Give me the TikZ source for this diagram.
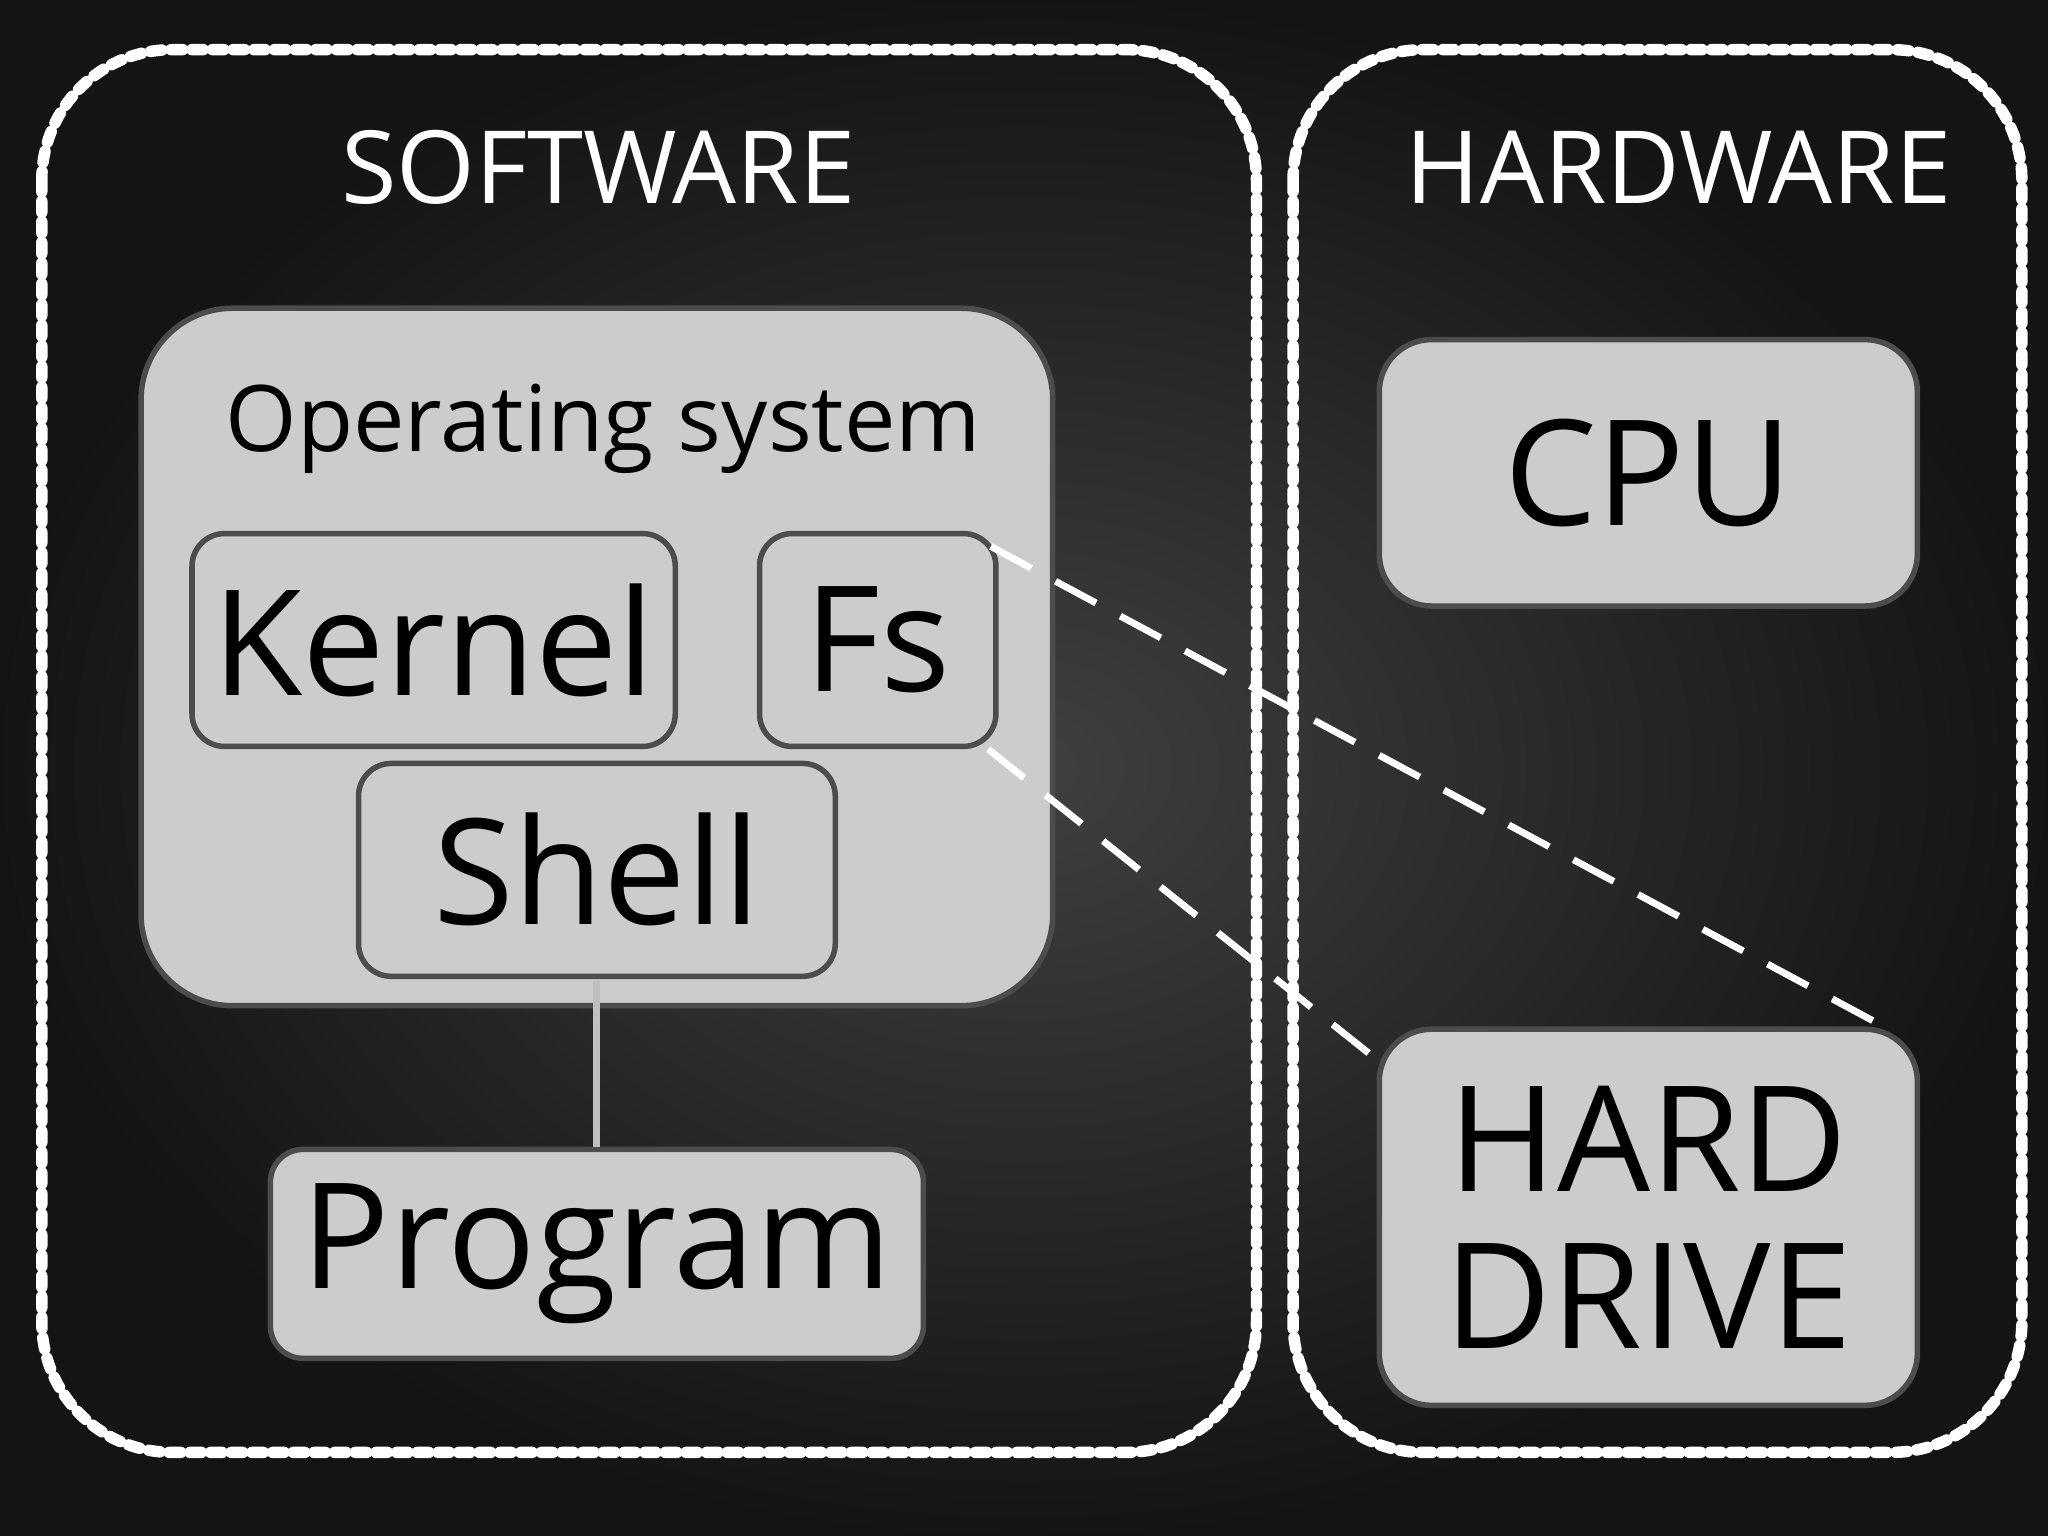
\documentclass[tikz,border=0pt]{standalone}
\usepackage{fontspec}
\setmainfont{Open Sans}
\begin{document}
\begin{tikzpicture}[x=0.01cm,y=-0.01cm,
  box/.style={draw=black!70,line width=1.2pt,fill=black!20,rounded corners=25*0.01cm},
  group/.style={draw=white,line width=2.5pt,dotted,line cap=round,rounded corners=1cm},
  big/.style={font=\fontsize{32}{36}\selectfont},
  lab/.style={text=white,font=\fontsize{22}{26}\selectfont},
  link/.style={draw=white,line width=1.5pt,dashed,dash pattern=on 10pt off 6pt}]
\useasboundingbox (0,0) rectangle (1568,1176);
\shade[inner color=black!75,outer color=black!92] (0,0) rectangle (1568,1176);
\draw[group] (32,38) rectangle (962,1112);
\draw[group] (990,38) rectangle (1548,1112);
\node[lab] (sw) at (458,128) {SOFTWARE};
\node[lab] (hw) at (1285,128) {HARDWARE};
\node[box,rounded corners=0.7cm,minimum width=698*0.01cm,minimum height=534*0.01cm] (os) at (457,503) {};
\node[font=\fontsize{20}{24}\selectfont] (ost) at (462,328) {Operating system};
\node[box,big,minimum width=370*0.01cm,minimum height=163*0.01cm] (kernel) at (332,490) {Kernel};
\node[box,big,minimum width=181*0.01cm,minimum height=163*0.01cm] (fs) at (672,490) {Fs};
\node[box,big,minimum width=365*0.01cm,minimum height=163*0.01cm] (shell) at (457,666) {Shell};
\node[box,big,minimum width=500*0.01cm,minimum height=160*0.01cm] (prog) at (457,960) {Program};
\node[box,big,minimum width=412*0.01cm,minimum height=204*0.01cm,rounded corners=0.4cm] (cpu) at (1262,362) {CPU};
\node[box,big,minimum width=412*0.01cm,minimum height=288*0.01cm,rounded corners=0.4cm,align=center,font=\fontsize{32}{34}\selectfont] (hd) at (1262,932) {HARD\\DRIVE};
\draw[black!25,line width=1.5pt] (shell.south) -- (prog.north);
\draw[link] ([xshift=-6*0.01cm,yshift=-12*0.01cm]fs.north east) -- ([xshift=-28*0.01cm]hd.north east);
\draw[link] ([xshift=-8*0.01cm]fs.south east) -- ([xshift=6*0.01cm,yshift=-30*0.01cm]hd.north west);
\end{tikzpicture}
\end{document}
